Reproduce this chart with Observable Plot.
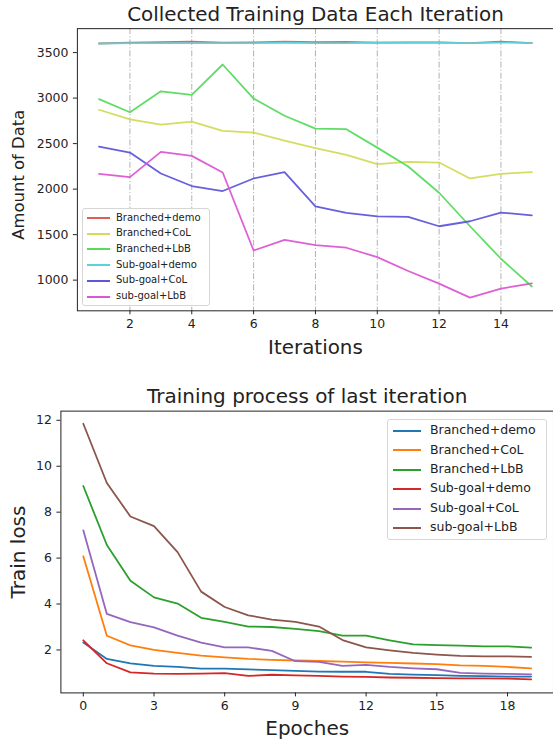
<!DOCTYPE html>
<html>
<head>
<meta charset="utf-8">
<script src="https://cdn.jsdelivr.net/npm/d3@7"></script>
<script src="https://cdn.jsdelivr.net/npm/@observablehq/plot@0.6"></script>
<style>
  html, body { margin: 0; padding: 0; background: #fff; overflow: hidden; }
  #wrap { position: relative; width: 553px; height: 743px; overflow: hidden; font-family: "DejaVu Sans", sans-serif; }
  #wrap svg { display: block; overflow: visible; }
  .legend { position: absolute; background: rgba(255,255,255,0.85); border: 1px solid #d6d6d6; border-radius: 3px; box-sizing: border-box; color: #222; }
  .legend .sw { position: absolute; }
  .legend .lb { position: absolute; line-height: 1; white-space: nowrap; }
</style>
</head>
<body>
<div id="wrap"></div>
<script>
// ---------- Top chart data ----------
const iterations = [1,2,3,4,5,6,7,8,9,10,11,12,13,14,15];
const topSeries = ["Branched+demo","Branched+CoL","Branched+LbB","Sub-goal+demo","Sub-goal+CoL","sub-goal+LbB"];
const topColors = ["#db5f57","#d3db57","#57db5f","#57d3db","#5f57db","#db57d3"];
const branchedDemoData = [3600,3610,3615,3620,3610,3612,3620,3615,3618,3610,3612,3612,3605,3620,3605];
const branchedCoLData  = [2872,2767,2708,2741,2639,2621,2533,2450,2376,2275,2300,2292,2117,2168,2187];
const branchedLbBData  = [2989,2844,3075,3036,3369,2995,2806,2664,2658,2456,2248,1960,1592,1235,930];
const subgoalDemoData  = [3600,3605,3605,3605,3603,3605,3608,3605,3605,3608,3608,3608,3603,3610,3605];
const subgoalCoLData   = [2467,2402,2172,2034,1979,2117,2187,1811,1738,1701,1695,1592,1647,1742,1712];
const subgoalLbBData   = [2168,2132,2409,2365,2183,1326,1443,1384,1356,1253,1100,962,808,907,965];
const topXTicks = [2,4,6,8,10,12,14];
const topYTicks = [1000,1500,2000,2500,3000,3500];

// ---------- Bottom chart data ----------
const epochs = [0,1,2,3,4,5,6,7,8,9,10,11,12,13,14,15,16,17,18,19];
const botSeries = ["Branched+demo","Branched+CoL","Branched+LbB","Sub-goal+demo","Sub-goal+CoL","sub-goal+LbB"];
const botColors = ["#1f77b4","#ff7f0e","#2ca02c","#d62728","#9467bd","#8c564b"];
const lossBranchedDemo = [2.32,1.61,1.42,1.31,1.26,1.19,1.19,1.15,1.12,1.09,1.06,1.05,1.05,0.96,0.93,0.90,0.87,0.86,0.84,0.84];
const lossBranchedCoL  = [6.08,2.62,2.20,2.00,1.87,1.75,1.68,1.61,1.57,1.54,1.52,1.49,1.46,1.44,1.41,1.38,1.33,1.31,1.26,1.20];
const lossBranchedLbB  = [9.14,6.57,5.01,4.29,4.02,3.40,3.22,3.02,3.00,2.92,2.82,2.62,2.62,2.42,2.24,2.21,2.19,2.16,2.16,2.10];
const lossSubgoalDemo  = [2.42,1.42,1.02,0.97,0.96,0.97,0.99,0.87,0.92,0.89,0.87,0.84,0.83,0.80,0.79,0.77,0.76,0.76,0.75,0.72];
const lossSubgoalCoL   = [7.21,3.57,3.21,2.98,2.62,2.32,2.11,2.11,1.96,1.51,1.48,1.31,1.35,1.26,1.20,1.16,1.00,0.97,0.96,0.94];
const lossSubgoalLbB   = [11.85,9.27,7.81,7.39,6.26,4.54,3.87,3.51,3.32,3.22,3.02,2.43,2.11,1.98,1.87,1.80,1.74,1.72,1.72,1.70];
const botXTicks = [0,3,6,9,12,15,18];
const botYTicks = [2,4,6,8,10,12];

// ---------- build tables ----------
const topArrays = [branchedDemoData, branchedCoLData, branchedLbBData, subgoalDemoData, subgoalCoLData, subgoalLbBData];
const topRows = topSeries.flatMap((s, i) => iterations.map((x, j) => ({series: s, x, y: topArrays[i][j]})));
const botArrays = [lossBranchedDemo, lossBranchedCoL, lossBranchedLbB, lossSubgoalDemo, lossSubgoalCoL, lossSubgoalLbB];
const botRows = botSeries.flatMap((s, i) => epochs.map((x, j) => ({series: s, x, y: botArrays[i][j]})));

const FONT = "DejaVu Sans";
const INK = "#222";
const fmt = d => String(d);
const LBL = 20;

const topPlot = Plot.plot({
  width: 556, height: 370,
  marginLeft: 77.3, marginRight: 0, marginTop: 28.3, marginBottom: 58,
  style: {fontFamily: FONT, fontSize: "12.5px", color: INK, background: "transparent"},
  x: {domain: [0.3, 15.7]},
  y: {domain: [663, 3763]},
  color: {domain: topSeries, range: topColors},
  marks: [
    Plot.gridX(topXTicks, {stroke: "#b0b0b0", strokeOpacity: 1, strokeWidth: 1, strokeDasharray: "6,2,1.2,2"}),
    Plot.line(topRows, {x: "x", y: "y", z: "series", stroke: "series", strokeWidth: 1.8, strokeOpacity: 0.95}),
    Plot.axisX(topXTicks, {tickSize: 4, tickPadding: 4, label: null, fontSize: 12.5, stroke: INK, tickFormat: fmt}),
    Plot.axisY(topYTicks, {tickSize: 4, tickPadding: 5, label: null, fontSize: 12.5, stroke: INK, tickFormat: fmt}),
    Plot.frame({stroke: INK, strokeWidth: 1}),
    Plot.text(["Collected Training Data Each Iteration"], {frameAnchor: "top", lineAnchor: "middle", dy: -14.5, fontSize: LBL, fill: INK}),
    Plot.text(["Iterations"], {frameAnchor: "bottom", lineAnchor: "middle", dy: 37, fontSize: LBL, fill: INK}),
    Plot.text(["Amount of Data"], {frameAnchor: "left", textAnchor: "middle", lineAnchor: "middle", dx: -59, dy: 5, rotate: -90, fontSize: 16.5, fill: INK})
  ]
});

const botPlot = Plot.plot({
  width: 554, height: 373,
  marginLeft: 60.5, marginRight: 0, marginTop: 42.7, marginBottom: 48,
  style: {fontFamily: FONT, fontSize: "12.5px", color: INK, background: "transparent"},
  x: {domain: [-0.95, 19.95]},
  y: {domain: [0.13, 12.4]},
  color: {domain: botSeries, range: botColors},
  marks: [
    Plot.line(botRows, {x: "x", y: "y", z: "series", stroke: "series", strokeWidth: 1.8}),
    Plot.axisX(botXTicks, {tickSize: 4, tickPadding: 4, label: null, fontSize: 12.5, stroke: INK, tickFormat: fmt}),
    Plot.axisY(botYTicks, {tickSize: 4, tickPadding: 5, label: null, fontSize: 12.5, stroke: INK, tickFormat: fmt}),
    Plot.frame({stroke: INK, strokeWidth: 1}),
    Plot.text(["Training process of last iteration"], {frameAnchor: "top", lineAnchor: "middle", dy: -15, fontSize: LBL, fill: INK}),
    Plot.text(["Epoches"], {frameAnchor: "bottom", lineAnchor: "middle", dy: 36, fontSize: LBL, fill: INK}),
    Plot.text(["Train loss"], {frameAnchor: "left", textAnchor: "middle", lineAnchor: "middle", dx: -42.5, dy: 0, rotate: -90, fontSize: LBL, fill: INK})
  ]
});

const wrap = document.getElementById("wrap");
wrap.appendChild(topPlot);
wrap.appendChild(botPlot);

function legend(names, colors, box, opt) {
  const d = document.createElement("div");
  d.className = "legend";
  Object.assign(d.style, {left: box.left + "px", top: box.top + "px", width: box.width + "px", height: box.height + "px"});
  names.forEach((n, i) => {
    const cy = opt.first + i * opt.step;
    const sw = document.createElement("div");
    sw.className = "sw";
    Object.assign(sw.style, {left: opt.lineX + "px", top: (cy - 1) + "px", width: opt.lineW + "px", height: "2px", background: colors[i]});
    const lb = document.createElement("div");
    lb.className = "lb";
    lb.textContent = n;
    Object.assign(lb.style, {left: opt.textX + "px", top: (cy - opt.fs * 0.55) + "px", fontSize: opt.fs + "px"});
    d.appendChild(sw); d.appendChild(lb);
  });
  wrap.appendChild(d);
}

legend(topSeries, topColors, {left: 82, top: 208, width: 128, height: 98},
  {first: 9, step: 15.7, lineX: 3.5, lineW: 23.5, textX: 33, fs: 10});
legend(botSeries, botColors, {left: 387, top: 419, width: 160, height: 121},
  {first: 11, step: 19.4, lineX: 4.5, lineW: 28, textX: 42, fs: 12.5});
</script>
</body>
</html>
